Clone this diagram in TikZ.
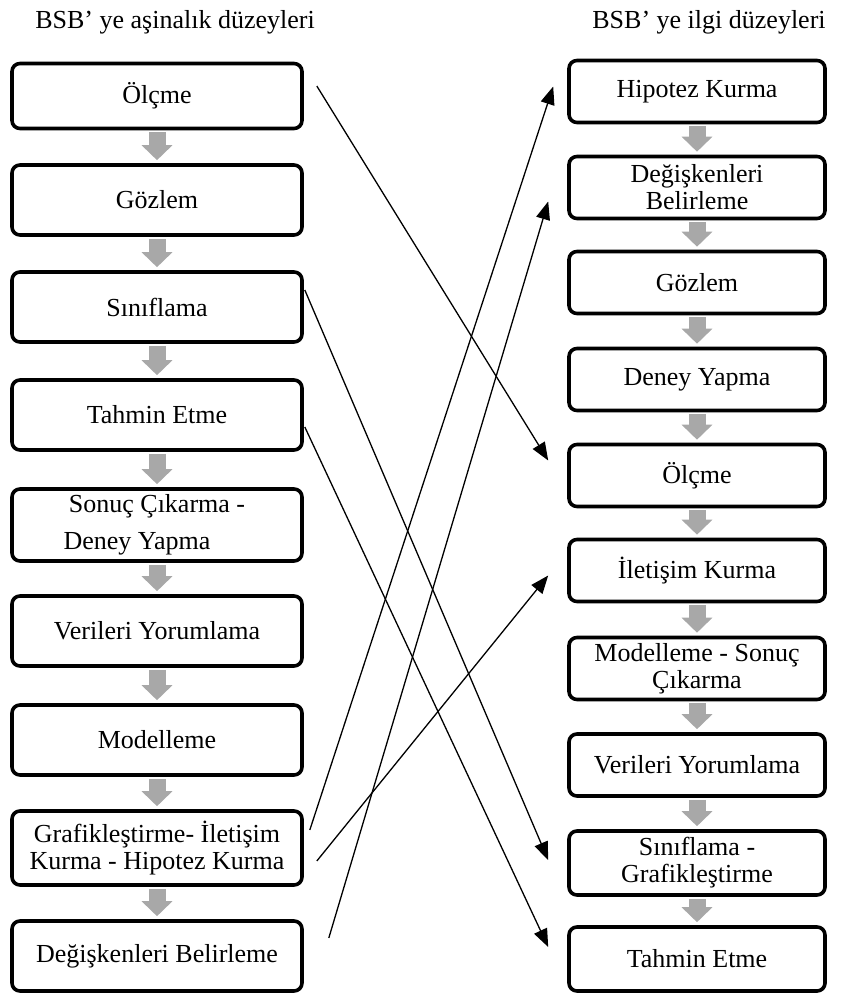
\documentclass[tikz,border=0pt]{standalone}
\usepackage{fontspec}
\setmainfont{Liberation Serif}
\usepackage{xcolor}
\usepackage{tikz}
\usetikzlibrary{positioning,calc,arrows.meta}

\definecolor{akisgri}{RGB}{168,168,168}

\begin{document}
\begin{tikzpicture}[x=0.5pt,y=-0.5pt,
	kutu/.style={draw, line width=1.8pt, rounded corners=4pt, align=center, inner sep=0pt, font=\fontsize{13pt}{13.5pt}\selectfont},
	solkutu/.style={kutu, minimum width=145pt, minimum height=35pt},
	sagkutu/.style={kutu, minimum width=128pt, minimum height=31pt},
	akis/.style={draw=akisgri, line width=8.5pt, -{Triangle[length=7.5pt,width=15pt]}, shorten <=1pt, shorten >=1.5pt},
	eslesme/.style={line width=0.65pt, -{Triangle[length=9pt,width=7pt]}}]
	\useasboundingbox (0,0) rectangle (844,994);

	% basliklar
	\node[font=\fontsize{13pt}{13.5pt}\selectfont] (solbaslik) at (175,22) {BSB’ ye aşinalık düzeyleri};
	\node[font=\fontsize{13pt}{13.5pt}\selectfont] (sagbaslik) at (709,22) {BSB’ ye ilgi düzeyleri};

	% sol sutun
	\node[solkutu, minimum height=32.5pt] (a1) at (157,96) {Ölçme};
	\node[solkutu] (a2) at (157,200) {Gözlem};
	\node[solkutu] (a3) at (157,307) {Sınıflama};
	\node[solkutu] (a4) at (157,415) {Tahmin Etme};
	\node[solkutu, minimum height=36pt] (a5) at (157,525) {Sonuç Çıkarma -\\[5pt]Deney Yapma\hspace*{20pt}};
	\node[solkutu] (a6) at (157,631) {Verileri Yorumlama};
	\node[solkutu] (a7) at (157,740) {Modelleme};
	\node[solkutu, minimum height=37pt] (a8) at (157,848) {Grafikleştirme- İletişim\\Kurma - Hipotez Kurma};
	\node[solkutu] (a9) at (157,956) {Değişkenleri Belirleme};

	% sag sutun
	\node[sagkutu] (i1) at (697,91.5) {Hipotez Kurma};
	\node[sagkutu] (i2) at (697,187.5) {Değişkenleri\\Belirleme};
	\node[sagkutu] (i3) at (697,282.5) {Gözlem};
	\node[sagkutu] (i4) at (697,379.5) {Deney Yapma};
	\node[sagkutu] (i5) at (697,475.5) {Ölçme};
	\node[sagkutu] (i6) at (697,570.5) {İletişim Kurma};
	\node[sagkutu] (i7) at (697,668.5) {Modelleme - Sonuç\\Çıkarma};
	\node[sagkutu] (i8) at (697,765) {Verileri Yorumlama};
	\node[sagkutu, minimum height=32pt] (i9) at (697,863) {Sınıflama -\\Grafikleştirme};
	\node[sagkutu, minimum height=32pt] (i10) at (697,959) {Tahmin Etme};

	% gri oklar
	\foreach \u/\v in {a1/a2,a2/a3,a3/a4,a4/a5,a5/a6,a6/a7,a7/a8,a8/a9,
		i1/i2,i2/i3,i3/i4,i4/i5,i5/i6,i6/i7,i7/i8,i8/i9,i9/i10}
		\draw[akis] (\u) -- (\v);

	% eslesmeler
	\draw[eslesme] ($(a1.east)+(13,-10)$) -- ($(i5.west)+(-19,-15)$);
	\draw[eslesme] ($(a3.east)+(1,-17)$) -- ($(i9.west)+(-19,-3)$);
	\draw[eslesme] ($(a4.east)+(1,12)$) -- ($(i10.west)+(-19,-12)$);
	\draw[eslesme] ($(a8.east)+(6,-18)$) -- ($(i1.west)+(-14,-5)$);
	\draw[eslesme] ($(a8.east)+(13,13)$) -- ($(i6.west)+(-19,5)$);
	\draw[eslesme] ($(a9.east)+(25,-18)$) -- ($(i2.west)+(-19,14)$);
\end{tikzpicture}
\end{document}
